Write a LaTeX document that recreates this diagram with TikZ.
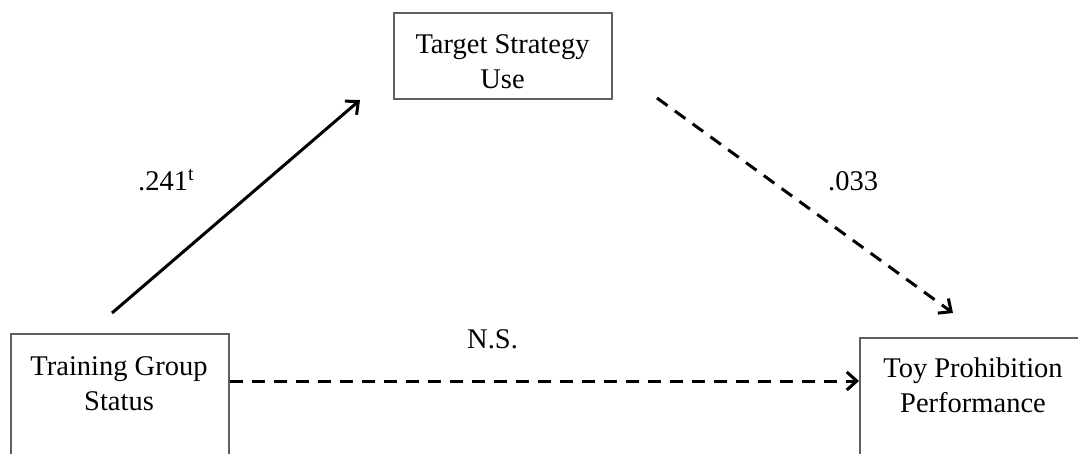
\documentclass[tikz,border=0pt]{standalone}
\usepackage{fontspec}
\setmainfont{Liberation Serif}
\usetikzlibrary{arrows.meta}
\definecolor{boxline}{RGB}{95,95,95}
\begin{document}
\begin{tikzpicture}[x=1pt,y=-1pt,
  box/.style={draw=boxline,line width=1.6pt,minimum width=218pt,anchor=north west,inner sep=0pt},
  lbl/.style={font=\fontsize{28.5}{35}\selectfont,align=center,inner sep=0pt,anchor=base},
  num/.style={font=\fontsize{28.5}{34}\selectfont,inner sep=0pt,anchor=base west},
  link/.style={line width=3pt,-{Straight Barb[length=10pt,width=18pt]}},
  dashlink/.style={link,dash pattern=on 13pt off 9pt}]
\useasboundingbox (0,0) rectangle (1078,453);

% variable boxes
\node[box,minimum height=160pt] (train) at (10,333) {};
\node[box,minimum height=86pt] (target) at (393,12) {};
\node[box,minimum width=240pt,minimum height=160pt] (toy) at (859,337) {};

% box texts (anchored on the last line's baseline)
\node[lbl] (trainlbl) at (119,410) {Training Group\\Status};
\node[lbl] (targetlbl) at (502.5,88) {Target Strategy\\Use};
\node[lbl] (toylbl) at (973,412) {Toy Prohibition\\Performance};

% path coefficients
\node[num] (ca) at (138,190) {.241\textsuperscript{t}};
\node[num] (cb) at (828,190) {.033};
\node[num] (cc) at (467,348) {N.S.};

% arrow end points
\coordinate (a1) at (112,313);
\coordinate (a2) at (360,100);
\coordinate (b1) at (657,98);
\coordinate (b2) at (953,313);
\coordinate (mid) at (0,381);

\draw[link] (a1) -- (a2);
\draw[dashlink] (b1) -- (b2);
\draw[dashlink] (train.east |- mid) -- (toy.west |- mid);
\end{tikzpicture}
\end{document}
